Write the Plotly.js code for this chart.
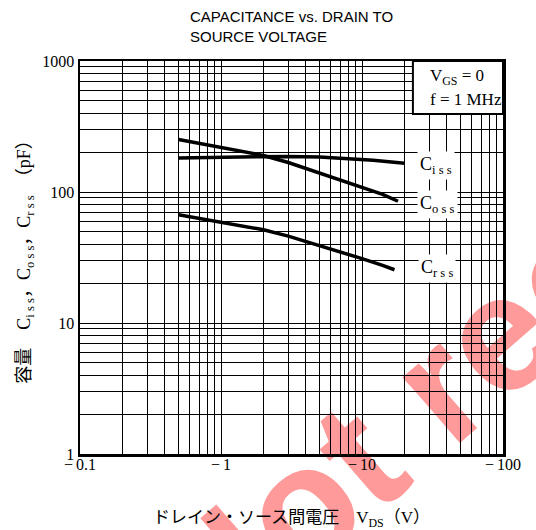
<!DOCTYPE html>
<html>
<head>
<meta charset="utf-8">
<script src="https://cdn.plot.ly/plotly-3.0.1.min.js"></script>
<style>
  html, body { margin: 0; padding: 0; background: #ffffff; }
  #wrap { position: relative; width: 536px; height: 530px; overflow: hidden; }
  #wm { position: absolute; left: 118px; top: 556px; transform-origin: 0 0; transform: rotate(-41deg);
        font: bold 165px "Liberation Sans", Arial, sans-serif; line-height: 1; color: #ff9a9a;
        white-space: nowrap; z-index: 0; }
  #chart { position: absolute; left: 0; top: 0; width: 536px; height: 530px; z-index: 1; }
</style>
</head>
<body>
<div id="wrap">
  <div id="wm">Not recommended</div>
  <div id="chart"></div>
</div>
<script>
// ---- data ----
const vdsIss = [0.5, 1, 2, 3, 5, 8, 12, 20];
const ciss   = [182, 184, 187, 187, 185, 180, 175, 166];

const vdsOss = [0.5, 0.7, 1, 2, 3, 5, 7, 10, 14, 18];
const coss   = [252, 235, 218, 190, 168, 140, 124, 110, 96, 85];

const vdsRss = [0.5, 1, 2, 3, 5, 7, 10, 14, 17];
const crss   = [67, 59, 51.5, 46, 39, 35, 31, 27.5, 25.5];

const xDecades = [0.1, 1, 10, 100];
const xTickLabels = ['−\u20090.1', '−\u20091', '−\u200910', '−\u2009100'];
const yDecades = [1, 10, 100, 1000];
const yTickLabels = ['1', '10', '100', '1000'];

// ---- minor grid positions (digits 2..9 within each decade) ----
function minorVals(decades) {
  const v = [];
  for (let i = 0; i < decades.length - 1; i++) {
    for (let k = 2; k <= 9; k++) v.push(decades[i] * k);
  }
  return v;
}

const serif = '"Liberation Serif", "Times New Roman", serif';
const jp = '"Liberation Serif", "Noto Sans CJK JP", serif';

const lineStyle = { color: '#000000', width: 3.5 };
const traces = [
  { x: vdsIss, y: ciss, mode: 'lines', line: lineStyle, name: 'Ciss', hoverinfo: 'x+y' },
  { x: vdsOss, y: coss, mode: 'lines', line: lineStyle, name: 'Coss', hoverinfo: 'x+y' },
  { x: vdsRss, y: crss, mode: 'lines', line: lineStyle, name: 'Crss', hoverinfo: 'x+y' }
];

const axisCommon = {
  type: 'log',
  showline: true, linecolor: '#000000', linewidth: 2.5, mirror: true,
  showgrid: true, gridcolor: '#000000', gridwidth: 1,
  zeroline: false, ticks: '',
  tickmode: 'array'
};

const layout = {
  width: 536, height: 530,
  margin: { l: 80, r: 33, t: 61, b: 76, autoexpand: false },
  paper_bgcolor: 'rgba(0,0,0,0)',
  plot_bgcolor: 'rgba(0,0,0,0)',
  showlegend: false,
  title: {
    text: 'CAPACITANCE vs. DRAIN TO<br>SOURCE VOLTAGE',
    x: 190 / 536, xanchor: 'left', xref: 'container',
    y: 1 - 22 / 530, yanchor: 'top', yref: 'container',
    font: { family: '"Liberation Sans", Arial, sans-serif', size: 15, color: '#000000' }
  },
  xaxis: Object.assign({}, axisCommon, {
    range: [-1, 2],
    tickvals: xDecades,
    ticktext: xTickLabels,
    tickfont: { family: serif, size: 16, color: '#000000' },
    ticklabelstandoff: -6,
    minor: { tickmode: 'array', tickvals: minorVals(xDecades), showgrid: true,
             gridcolor: '#000000', gridwidth: 1, ticks: '' },
    title: {
      text: 'ドレイン・ソース間電圧　V<sub>DS</sub>（V）　',
      font: { family: jp, size: 17, color: '#000000' },
      standoff: 40
    }
  }),
  yaxis: Object.assign({}, axisCommon, {
    range: [0, 3],
    tickvals: yDecades,
    ticktext: yTickLabels,
    tickfont: { family: serif, size: 16, color: '#000000' },
    ticklabelstandoff: 0,
    minor: { tickmode: 'array', tickvals: minorVals(yDecades), showgrid: true,
             gridcolor: '#000000', gridwidth: 1, ticks: '' },
    title: {
      text: '容量　C<sub>i s s</sub>，C<sub>o s s</sub>，C<sub>r s s</sub>　（pF）　',
      font: { family: jp, size: 18, color: '#000000' },
      standoff: 7
    }
  }),
  shapes: [
    { type: 'rect', xref: 'paper', yref: 'paper', x0: 0.787, x1: 1, y0: 0.865, y1: 1,
      fillcolor: '#ffffff', line: { color: '#000000', width: 2 }, layer: 'above' }
  ],
  annotations: [
    { xref: 'paper', yref: 'paper', x: 0.823, y: 0.959, xanchor: 'left', yanchor: 'middle',
      text: 'V<sub>GS</sub> = 0', showarrow: false, font: { family: serif, size: 17, color: '#000' } },
    { xref: 'paper', yref: 'paper', x: 0.823, y: 0.903, xanchor: 'left', yanchor: 'middle',
      text: 'f = 1 MHz', showarrow: false, font: { family: serif, size: 17, color: '#000' } },
    { xref: 'paper', yref: 'paper', x: 0.842, y: 0.733, xanchor: 'center', yanchor: 'middle',
      text: 'C<sub>i s s</sub>', showarrow: false, bgcolor: '#ffffff', borderpad: 2,
      font: { family: serif, size: 18, color: '#000' } },
    { xref: 'paper', yref: 'paper', x: 0.846, y: 0.636, xanchor: 'center', yanchor: 'middle',
      text: 'C<sub>o s s</sub>', showarrow: false, bgcolor: '#ffffff', borderpad: 2,
      font: { family: serif, size: 18, color: '#000' } },
    { xref: 'paper', yref: 'paper', x: 0.844, y: 0.473, xanchor: 'center', yanchor: 'middle',
      text: 'C<sub>r s s</sub>', showarrow: false, bgcolor: '#ffffff', borderpad: 2,
      font: { family: serif, size: 18, color: '#000' } }
  ]
};

Plotly.newPlot('chart', traces, layout, { displayModeBar: false, staticPlot: true });
</script>
</body>
</html>
